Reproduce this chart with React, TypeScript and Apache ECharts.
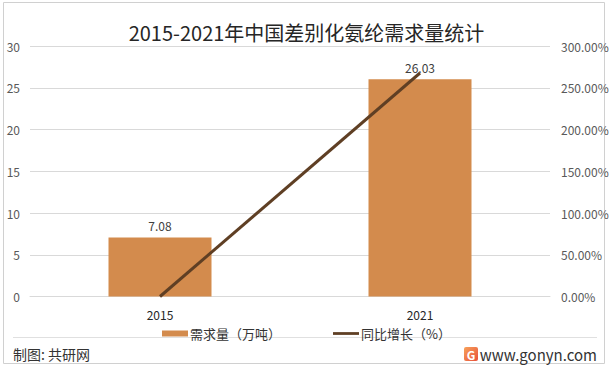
import React, { useEffect, useRef } from "react";
import * as echarts from "echarts";

const categories = ["2015", "2021"];
const demandValues = [7.08, 26.03];
const growthValues = [0, 267.66];
const leftTicks = { min: 0, max: 30, interval: 5 };
const rightTicks = { min: 0, max: 300, interval: 50 };
const seriesNames = ["需求量（万吨）", "同比增长（%）"];
const titleText = "2015-2021年中国差别化氨纶需求量统计";
const sourceText = "制图: 共研网";
const siteText = "www.gonyn.com";

const FONT = '"Noto Sans CJK SC", "Noto Sans", sans-serif';

export default function App() {
  const ref = useRef<HTMLDivElement>(null);
  useEffect(() => {
    if (!ref.current) return;
    const chart = echarts.init(ref.current, undefined, { renderer: "svg" });
    chart.setOption({
      animation: false,
      backgroundColor: "#ffffff",
      textStyle: { fontFamily: FONT },
      title: {
        text: titleText,
        left: "center",
        top: 17,
        textStyle: { fontSize: 20, fontWeight: "normal", color: "#262626", fontFamily: FONT },
      },
      grid: { left: 30, right: 63, top: 46, bottom: 73.5 },
      legend: {
        data: [
          { name: seriesNames[0], icon: "rect" },
          { name: seriesNames[1], icon: "path://M0,0H28V3H0Z" },
        ],
        left: "center",
        top: 322,
        itemWidth: 26,
        itemHeight: 6,
        itemGap: 52,
        textStyle: { fontSize: 13, color: "#333", fontFamily: FONT, padding: [0, 0, 0, -3] },
      },
      xAxis: {
        type: "category",
        data: categories,
        axisTick: { show: false },
        axisLine: { show: true, lineStyle: { color: "#d9d9d9" } },
        axisLabel: { color: "#262626", fontSize: 12, margin: 12 },
      },
      yAxis: [
        {
          type: "value",
          min: leftTicks.min,
          max: leftTicks.max,
          interval: leftTicks.interval,
          axisLine: { show: false },
          axisTick: { show: false },
          splitLine: { lineStyle: { color: "#d9d9d9" } },
          axisLabel: { color: "#595959", fontSize: 12, margin: 10 },
        },
        {
          type: "value",
          min: rightTicks.min,
          max: rightTicks.max,
          interval: rightTicks.interval,
          axisLine: { show: false },
          axisTick: { show: false },
          splitLine: { show: false },
          axisLabel: {
            color: "#595959",
            fontSize: 12,
            margin: 11,
            formatter: (v: number) => v.toFixed(2) + "%",
          },
        },
      ],
      series: [
        {
          name: seriesNames[0],
          type: "bar",
          data: demandValues,
          barWidth: 103,
          itemStyle: { color: "#D38B4D" },
          label: { show: true, position: "top", distance: 6, color: "#404040", fontSize: 12 },
        },
        {
          name: seriesNames[1],
          type: "line",
          yAxisIndex: 1,
          data: growthValues,
          symbol: "none",
          lineStyle: { width: 3, color: "#5F3F24" },
          itemStyle: { color: "#5F3F24" },
          z: 5,
        },
      ],
      graphic: [
        {
          type: "rect",
          shape: { x: 3.5, y: 2.5, width: 601, height: 361 },
          style: { fill: "none", stroke: "#d0d0d0", lineWidth: 1 },
          silent: true,
        },
        {
          type: "line",
          shape: { x1: 13, y1: 337.5, x2: 597, y2: 337.5 },
          style: { stroke: "#e0e0e0", lineWidth: 1 },
          silent: true,
        },
        {
          type: "text",
          x: 13,
          y: 354,
          style: { text: sourceText, fontSize: 14, fill: "#333", fontFamily: FONT, verticalAlign: "middle" },
        },
        {
          type: "rect",
          shape: { x: 464, y: 347, width: 14, height: 14, r: 2 },
          style: {
            fill: new echarts.graphic.LinearGradient(0, 0, 1, 1, [
              { offset: 0, color: "#F7A25A" },
              { offset: 1, color: "#E8503A" },
            ]),
          },
        },
        {
          type: "text",
          x: 471,
          y: 354,
          style: {
            text: "G",
            fontSize: 12,
            fontWeight: "bold",
            fill: "#fff",
            fontFamily: FONT,
            align: "center",
            verticalAlign: "middle",
          },
        },
        {
          type: "text",
          x: 597,
          y: 354,
          style: {
            text: siteText,
            fontSize: 15,
            fill: "#333",
            fontFamily: FONT,
            align: "right",
            verticalAlign: "middle",
          },
        },
      ],
    });
    return () => chart.dispose();
  }, []);
  return (
    <div
      ref={ref}
      style={{ position: "absolute", left: 0, top: 0, width: 613, height: 370 }}
    />
  );
}
